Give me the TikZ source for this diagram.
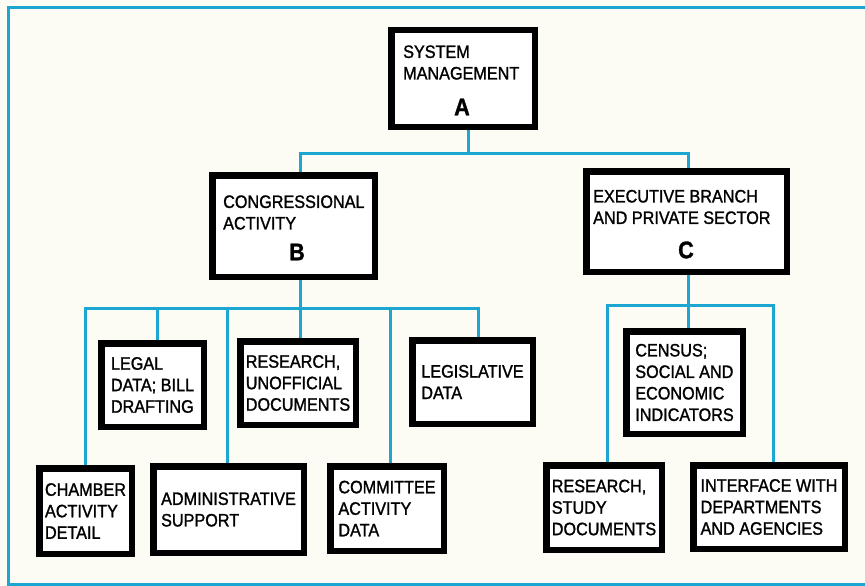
\documentclass[tikz,border=0pt]{standalone}
\usepackage{fontspec}
\setmainfont{Liberation Sans}[FakeStretch=0.9,FakeBold=1.3]
\definecolor{bgc}{RGB}{252,252,244}
\definecolor{linecyan}{RGB}{28,166,210}
\pgfdeclarelayer{bg}
\pgfsetlayers{bg,main}
\begin{document}
\begin{tikzpicture}[x=1pt,y=-1pt,
  box/.style={draw=black, line width=6.5pt, fill=white, inner sep=0pt, align=left,
    font=\fontsize{18}{21.5}\selectfont},
  conn/.style={draw=linecyan, line width=3pt},
  lbl/.style={inner sep=0pt, align=left, anchor=west, font=\fontsize{18}{21.5}\selectfont},
  letter/.style={inner sep=0pt, font=\fontsize{24}{24}\selectfont\bfseries}]
\useasboundingbox (0,0) rectangle (865,586);

% top level
\node[box, minimum width=143.5pt, minimum height=96.5pt] (A) at (463,78.5) {};
\node[lbl] (At) at (403,62.5) {SYSTEM\\MANAGEMENT};
\node[letter] (Al) at (462,107) {A};

\node[box, minimum width=162.5pt, minimum height=101.5pt] (B) at (293.5,226) {};
\node[lbl] (Bt) at (223,212.5) {CONGRESSIONAL\\ACTIVITY};
\node[letter] (Bl) at (297,252) {B};

\node[box, minimum width=200.5pt, minimum height=100.5pt] (C) at (686.5,221.5) {};
\node[lbl] (Ct) at (593,207) {EXECUTIVE BRANCH\\AND PRIVATE SECTOR};
\node[letter] (Cl) at (686,250) {C};

% B subtree
\node[box, minimum width=102.5pt, minimum height=83.5pt] (legal) at (152.5,385) {LEGAL\\DATA; BILL\\DRAFTING};
\node[box, minimum width=115.5pt, minimum height=83.5pt] (resu) at (298,383) {RESEARCH,\\UNOFFICIAL\\DOCUMENTS};
\node[box, minimum width=120.5pt, minimum height=83.5pt] (legis) at (472.5,382) {LEGISLATIVE\\DATA};
\node[box, minimum width=92.5pt, minimum height=85.5pt] (chamber) at (85.5,511) {CHAMBER\\ACTIVITY\\DETAIL};
\node[box, minimum width=150.5pt, minimum height=86.5pt] (admin) at (228.5,509.5) {ADMINISTRATIVE\\SUPPORT};
\node[box, minimum width=113.5pt, minimum height=84.5pt] (committee) at (387,508.5) {COMMITTEE\\ACTIVITY\\DATA};

% C subtree
\node[box, minimum width=116.5pt, minimum height=102.5pt] (census) at (684.5,382.5) {CENSUS;\\SOCIAL AND\\ECONOMIC\\INDICATORS};
\node[box, minimum width=115.5pt, minimum height=84.5pt] (ress) at (604,507.5) {RESEARCH,\\STUDY\\DOCUMENTS};
\node[box, minimum width=151.5pt, minimum height=83.5pt] (iface) at (769,507) {INTERFACE WITH\\DEPARTMENTS\\AND AGENCIES};

% junction coordinates
\coordinate (ja) at (468,153);
\coordinate (xb) at (300,0);
\coordinate (xc) at (688,0);
\coordinate (jb) at (300,308);
\coordinate (jc) at (688,305);
\coordinate (x1) at (85,0);
\coordinate (x2) at (157,0);
\coordinate (x3) at (227,0);
\coordinate (x5) at (390,0);
\coordinate (x6) at (478,0);
\coordinate (y1) at (607,0);
\coordinate (y3) at (773,0);

\begin{pgfonlayer}{bg}
\fill[bgc] (0,0) rectangle (865,586);
\draw[conn] (8,8) rectangle (885,584);
% A to B and C
\draw[conn] (A.south -| ja) -- (ja);
\draw[conn] (B.north -| xb) |- (ja) -| (C.north -| xc);
% B subtree
\draw[conn] (B.south -| xb) -- (jb);
\draw[conn] (chamber.north -| x1) |- (jb) -| (legis.north -| x6);
\draw[conn] (legal.north -| x2) -- (jb -| x2);
\draw[conn] (admin.north -| x3) -- (jb -| x3);
\draw[conn] (resu.north -| xb) -- (jb);
\draw[conn] (committee.north -| x5) -- (jb -| x5);
% C subtree
\draw[conn] (C.south -| xc) -- (census.north -| xc);
\draw[conn] (ress.north -| y1) |- (jc) -| (iface.north -| y3);
\end{pgfonlayer}
\end{tikzpicture}
\end{document}
